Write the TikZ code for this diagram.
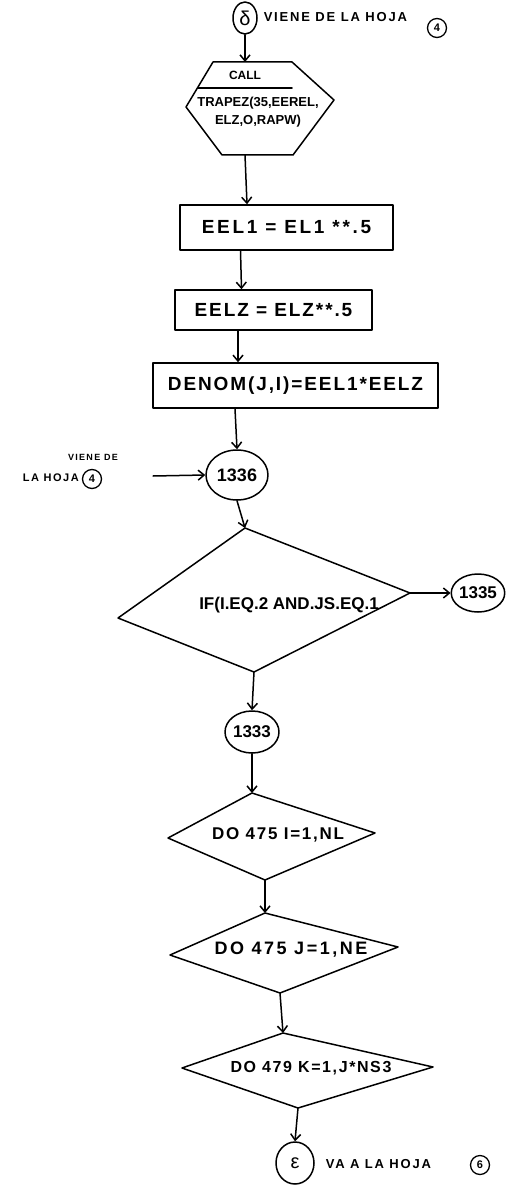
\documentclass[tikz,border=0pt]{standalone}
\usepackage{fontspec}
\setmainfont{Liberation Sans}
\newfontfamily\labfont[LetterSpace=14]{Liberation Sans}
\newfontfamily\handfont[LetterSpace=10]{Liberation Sans}
\usetikzlibrary{arrows.meta,shapes.geometric}
\begin{document}
\begin{tikzpicture}[x=1pt,y=-1pt,line width=1.5pt,line join=round,line cap=round,
  flow/.style={-{Straight Barb[length=6pt,width=10pt]}},
  big/.style={font=\handfont\bfseries\fontsize{19}{21}\selectfont, inner sep=0pt},
  procbox/.style={draw, rectangle, inner sep=0pt, font=\handfont\bfseries\fontsize{19}{21}\selectfont},
  conn/.style={draw, ellipse, inner sep=0pt, font=\bfseries\fontsize{17}{19}\selectfont},
  sheet/.style={draw, circle, inner sep=0pt, minimum size=19pt, line width=1.3pt, font=\bfseries\fontsize{11}{12}\selectfont},
  lab/.style={inner sep=0pt, font=\labfont\bfseries\fontsize{13}{15}\selectfont}
]
\useasboundingbox (0,0) rectangle (523,1190);

% ---- top connector
\node[conn, minimum width=24pt, minimum height=32pt, font=\fontsize{20}{22}\selectfont] (delta) at (245,18) {δ};
\node[lab, anchor=west] (vienetop) at (263,17) {VIENE DE LA HOJA};
\node[sheet] (s4top) at (437,28) {4};

% ---- hexagon CALL
\coordinate (ht1) at (213,62);
\coordinate (ht2) at (292,62);
\coordinate (hr) at (334,100);
\coordinate (hb2) at (293,155);
\coordinate (hb1) at (222,155);
\coordinate (hl) at (186,107);
\coordinate (htop) at (245,62);
\coordinate (hbot) at (245,155);
\draw (ht1) -- (ht2) -- (hr) -- (hb2) -- (hb1) -- (hl) -- cycle;
\coordinate (sepl) at (198,88);
\coordinate (sepr) at (292,88);
\draw (sepl) -- (sepr);
\node[inner sep=0pt, font=\bfseries\fontsize{12}{14}\selectfont] (call) at (245,75) {CALL};
\node[inner sep=0pt, font=\bfseries\fontsize{13}{15}\selectfont, align=center] (trapez) at (258,112) {TRAPEZ(35,EEREL,\\[3pt]ELZ,O,RAPW)};
\draw[flow] (delta.south) -- (htop);

% ---- process boxes
\node[procbox, minimum width=213pt, minimum height=45pt, font=\labfont\bfseries\fontsize{19}{21}\selectfont] (box1) at (286.5,227.5) {EEL1 = EL1 **.5};
\node[procbox, minimum width=197pt, minimum height=40pt] (box2) at (273.5,310) {EELZ = ELZ**.5};
\node[procbox, minimum width=285pt, minimum height=45pt] (box3) at (295.5,385.5) {DENOM(J,I)=EEL1*EELZ};
\draw[flow] (hbot) -- ([xshift=-39.5pt]box1.north);
\draw[flow] ([xshift=-46pt]box1.south) -- ([xshift=-32pt]box2.north);
\draw[flow] ([xshift=-35.5pt]box2.south) -- ([xshift=-57.5pt]box3.north);

% ---- connector 1336
\node[conn, minimum width=62pt, minimum height=50pt, font=\bfseries\fontsize{18}{20}\selectfont] (n1336) at (237,475) {1336};
\draw[flow] ([xshift=-60.5pt]box3.south) -- (n1336.north);
\node[inner sep=0pt, font=\labfont\bfseries\fontsize{9}{10}\selectfont] (vienel) at (93,457) {VIENE DE};
\node[lab, font=\labfont\bfseries\fontsize{11}{12}\selectfont, anchor=west] (hojal) at (22,478) {LA HOJA};
\node[sheet] (s4left) at (92,479) {4};
\coordinate (leftin) at (153,476);
\draw[flow] (leftin) -- (n1336.west);

% ---- IF diamond
\coordinate (d1t) at (245,528);
\coordinate (d1r) at (410,593);
\coordinate (d1b) at (254,672);
\coordinate (d1l) at (118,618);
\draw (d1t) -- (d1r) -- (d1b) -- (d1l) -- cycle;
\node[inner sep=0pt, font=\bfseries\fontsize{17}{19}\selectfont] (iftext) at (289,605) {IF(I.EQ.2 AND.JS.EQ.1};
\draw[flow] (n1336.south) -- (d1t);
\node[conn, minimum width=52pt, minimum height=38pt] (n1335) at (478,593) {1335};
\draw[flow] (d1r) -- (n1335.west);

% ---- 1333
\node[conn, minimum width=54pt, minimum height=42pt] (n1333) at (252,732) {1333};
\draw[flow] (d1b) -- (n1333.north);

% ---- DO diamonds
\coordinate (d2t) at (252,793);
\coordinate (d2r) at (375,833);
\coordinate (d2b) at (265,880);
\coordinate (d2l) at (168,838);
\draw (d2t) -- (d2r) -- (d2b) -- (d2l) -- cycle;
\node[big, font=\handfont\bfseries\fontsize{17}{19}\selectfont] (do1) at (278,835) {DO 475 I=1,NL};
\draw[flow] (n1333.south) -- (d2t);

\coordinate (d3t) at (265,913);
\coordinate (d3r) at (398,947);
\coordinate (d3b) at (280,993);
\coordinate (d3l) at (170,955);
\draw (d3t) -- (d3r) -- (d3b) -- (d3l) -- cycle;
\node[big, font=\labfont\bfseries\fontsize{18}{20}\selectfont] (do2) at (291,950) {DO 475 J=1,NE};
\draw[flow] (d2b) -- (d3t);

\coordinate (d4t) at (283,1033);
\coordinate (d4r) at (433,1067);
\coordinate (d4b) at (298,1108);
\coordinate (d4l) at (182,1068);
\draw (d4t) -- (d4r) -- (d4b) -- (d4l) -- cycle;
\node[big, font=\handfont\bfseries\fontsize{16}{18}\selectfont] (do3) at (311,1068) {DO 479 K=1,J*NS3};
\draw[flow] (d3b) -- (d4t);

% ---- bottom connector
\node[conn, minimum width=38pt, minimum height=42pt, font=\fontsize{20}{22}\selectfont] (eps) at (295,1163) {ε};
\draw[flow] (d4b) -- (eps.north);
\node[lab, anchor=west] (vaala) at (325,1164) {VA A LA HOJA};
\node[sheet] (s6) at (480,1165) {6};
\end{tikzpicture}
\end{document}
